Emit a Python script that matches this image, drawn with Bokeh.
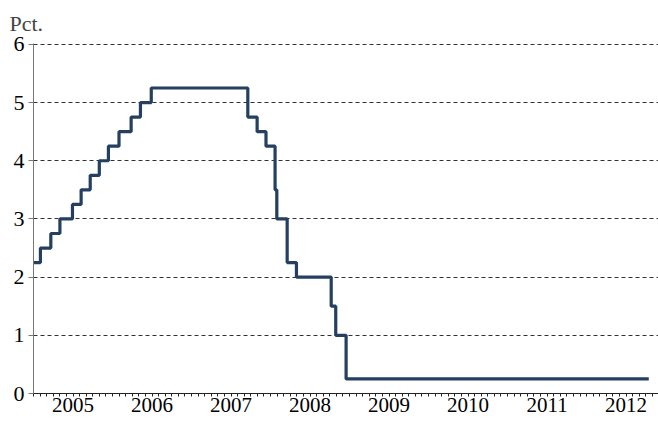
import pandas as pd
from bokeh.plotting import figure
from bokeh.models import FixedTicker, LinearAxis, Range1d, Title
from bokeh.embed import file_html
from bokeh.resources import INLINE

# Policy rate (Pct.), step changes
dates = ["2005-01-01", "2005-02-02", "2005-03-22", "2005-05-03", "2005-06-30",
         "2005-08-09", "2005-09-20", "2005-11-01", "2005-12-13", "2006-01-31",
         "2006-03-28", "2006-05-10", "2006-06-29", "2007-09-18", "2007-10-31",
         "2007-12-11", "2008-01-22", "2008-01-30", "2008-03-18", "2008-04-30",
         "2008-10-08", "2008-10-29", "2008-12-16", "2012-10-15"]
rates = [2.25, 2.50, 2.75, 3.00, 3.25,
         3.50, 3.75, 4.00, 4.25, 4.50,
         4.75, 5.00, 5.25, 4.75, 4.50,
         4.25, 3.50, 3.00, 2.25, 2.00,
         1.50, 1.00, 0.25, 0.25]

years = [2005, 2006, 2007, 2008, 2009, 2010, 2011, 2012, 2013]
year_labels = ["2005", "2006", "2007", "2008", "2009", "2010", "2011", "2012"]
y_ticks = [0, 1, 2, 3, 4, 5, 6]


def frac_year(s):
    t = pd.Timestamp(s)
    start = pd.Timestamp(year=t.year, month=1, day=1)
    end = pd.Timestamp(year=t.year + 1, month=1, day=1)
    return t.year + (t - start) / (end - start)


x = [frac_year(d) for d in dates]

FONT = "Liberation Serif"
FS = "21px"

p = figure(width=658, height=422, output_backend="svg", toolbar_location=None,
           x_range=Range1d(2005, 2012.91), y_range=Range1d(0, 6.015),
           min_border_left=33, min_border_right=0, min_border_top=41,
           min_border_bottom=29, x_axis_type=None)
p.outline_line_color = None
p.background_fill_color = "white"
p.border_fill_color = "white"

title = Title(text="Pct.", align="left", offset=-24, text_font=FONT,
              text_font_size="22px", text_font_style="normal", standoff=16)
p.add_layout(title, "above")

# year-boundary ticks (longer), drawn on the x axis line, without labels
ax_a = LinearAxis(ticker=FixedTicker(ticks=[], minor_ticks=years), fixed_location=0)
ax_a.axis_line_color = None
ax_a.minor_tick_out = 6
ax_a.minor_tick_in = 0
ax_a.minor_tick_line_color = "#222222"
p.add_layout(ax_a, "below")

# main x axis: month minor ticks, year labels centred in each year
months = [y + m / 12 for y in years[:-1] for m in range(12)]
mids = [y + 0.5 for y in years[:-1]]
ax_b = LinearAxis(ticker=FixedTicker(ticks=mids, minor_ticks=months),
                  major_label_overrides={m: lab for m, lab in zip(mids, year_labels)})
ax_b.axis_line_color = "#222222"
ax_b.major_tick_line_color = None
ax_b.major_tick_out = 3
ax_b.major_tick_in = 0
ax_b.minor_tick_out = 3
ax_b.minor_tick_in = 0
ax_b.minor_tick_line_color = "#222222"
ax_b.major_label_standoff = 1
ax_b.major_label_text_font = FONT
ax_b.major_label_text_font_size = FS
ax_b.major_label_text_color = "black"
p.add_layout(ax_b, "below")

# y axis
p.yaxis.ticker = FixedTicker(ticks=y_ticks, minor_ticks=[])
p.yaxis.major_tick_out = 5
p.yaxis.major_tick_in = 0
p.yaxis.major_label_standoff = 4
p.yaxis.major_label_text_font = FONT
p.yaxis.major_label_text_font_size = "22px"
p.yaxis.major_label_text_color = "black"
p.yaxis.axis_line_color = "#777777"
p.yaxis.major_tick_line_color = "#777777"

p.xgrid.visible = False
p.ygrid.ticker = FixedTicker(ticks=y_ticks)
p.ygrid.grid_line_color = "#333333"
p.ygrid.grid_line_dash = "4 3"
p.ygrid.grid_line_width = 1

p.step(x, rates, mode="after", line_width=3.2, line_color="#243F60")

open("out.html", "w").write(file_html(p, INLINE))
